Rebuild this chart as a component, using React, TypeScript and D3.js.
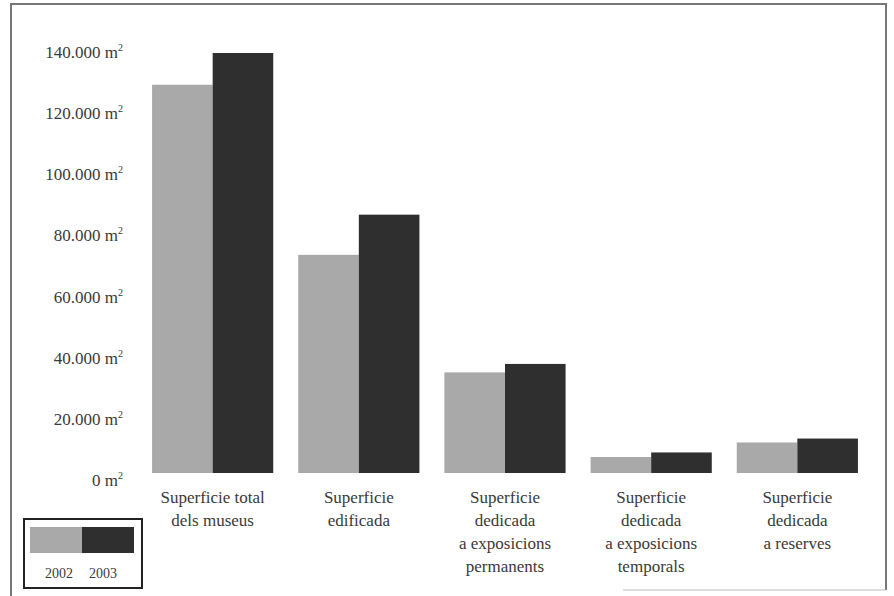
import * as d3 from "d3";

const categories: string[][] = [
  ["Superficie total", "dels museus"],
  ["Superficie", "edificada"],
  ["Superficie", "dedicada", "a exposicions", "permanents"],
  ["Superficie", "dedicada", "a exposicions", "temporals"],
  ["Superficie", "dedicada", "a reserves"],
];
const years = ["2002", "2003"];
const values2002 = [128500, 72200, 33300, 5300, 10100];
const values2003 = [139000, 85500, 36100, 6800, 11400];
const yTicks = [0, 20000, 40000, 60000, 80000, 100000, 120000, 140000];

const W = 894;
const H = 596;
const colors = ["#a9a9a9", "#2f2f2f"];
const textColor = "#3a3a3a";
const font = "'Liberation Serif', 'DejaVu Serif', serif";

export default function App() {
  const x = d3
    .scaleBand<number>()
    .domain(d3.range(categories.length))
    .range([139.5, 870.5])
    .paddingInner(0.171)
    .paddingOuter(0.086);
  const inner = d3
    .scaleBand<string>()
    .domain(years)
    .range([0, x.bandwidth()]);
  const y = d3.scaleLinear().domain([0, 140000]).range([473, 50]);
  // the printed tick labels sit slightly lower than the bar scale near the bottom
  const yLabel = d3.scaleLinear().domain([0, 140000]).range([480, 52]);
  const fmt = d3.formatLocale({ decimal: ",", thousands: ".", grouping: [3], currency: ["", ""] }).format(",d");
  const series = [values2002, values2003];

  return (
    <svg width={W} height={H} style={{ position: "absolute", left: 0, top: 0, background: "#fff" }}>
      {/* frame */}
      <path d={`M11,${H} V4 H886 V590`} fill="none" stroke="#777" strokeWidth={2} />
      <line x1={623} x2={886} y1={590} y2={590} stroke="#bbb" strokeWidth={1} />

      {/* y tick labels */}
      {yTicks.map((t) => (
        <text key={t} x={123} y={yLabel(t)} dy="0.35em" textAnchor="end" fontFamily={font} fontSize={17} fill={textColor}>
          {fmt(t)} m
          <tspan fontSize={10} dy={-7}>2</tspan>
        </text>
      ))}

      {/* bars */}
      {series.map((vals, si) =>
        vals.map((v, i) => (
          <rect
            key={`${si}-${i}`}
            x={(x(i) ?? 0) + (inner(years[si]) ?? 0)}
            y={y(v)}
            width={inner.bandwidth()}
            height={y(0) - y(v)}
            fill={colors[si]}
          />
        ))
      )}

      {/* category labels */}
      {categories.map((lines, i) =>
        lines.map((l, j) => (
          <text
            key={`${i}-${j}`}
            x={(x(i) ?? 0) + x.bandwidth() / 2}
            y={497 + j * 23}
            dy="0.35em"
            textAnchor="middle"
            fontFamily={font}
            fontSize={17}
            fill={textColor}
          >
            {l}
          </text>
        ))
      )}

      {/* legend */}
      <rect x={24} y={519} width={118} height={69} fill="none" stroke="#222" strokeWidth={2} />
      {years.map((yr, i) => (
        <g key={yr}>
          <rect x={30 + i * 52} y={527} width={52} height={26} fill={colors[i]} />
          <text x={59 + i * 44} y={578} textAnchor="middle" fontFamily={font} fontSize={14} fill={textColor}>
            {yr}
          </text>
        </g>
      ))}
    </svg>
  );
}
